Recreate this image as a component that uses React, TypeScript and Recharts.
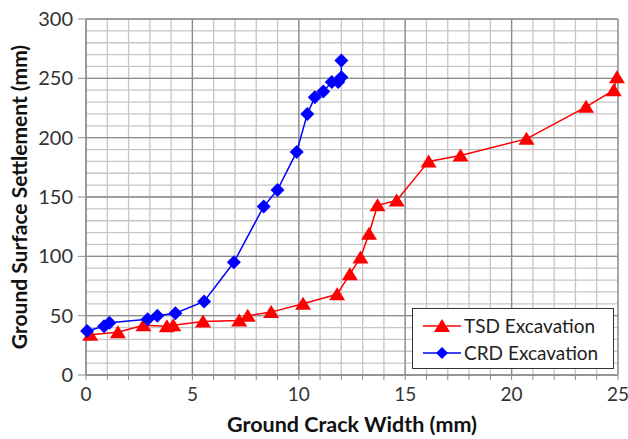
import React from 'react';
import {
  ScatterChart,
  Scatter,
  XAxis,
  YAxis,
  CartesianGrid,
  Label,
} from 'recharts';

// TSD Excavation (red triangles)
const tsdX = [0.2, 1.5, 2.7, 3.8, 4.1, 5.5, 7.2, 7.6, 8.7, 10.2, 11.8, 12.4, 12.9, 13.3, 13.7, 14.6, 16.1, 17.6, 20.7, 23.5, 24.8, 24.95];
const tsdY = [34, 36, 42, 41, 42, 45, 46, 50, 53, 60, 68, 85, 99, 119, 143, 147, 180, 185, 199, 226, 240, 251];

// CRD Excavation (blue diamonds)
const crdX = [0.05, 0.85, 1.1, 2.9, 3.35, 4.2, 5.55, 6.95, 8.35, 9.0, 9.9, 10.4, 10.75, 11.15, 11.55, 11.85, 12.0, 12.0];
const crdY = [37, 41, 44, 47, 50, 52, 62, 95, 142, 156, 188, 220, 234, 239, 247, 247, 251, 265];

const xTicks = [0, 1, 2, 3, 4, 5, 6, 7, 8, 9, 10, 11, 12, 13, 14, 15, 16, 17, 18, 19, 20, 21, 22, 23, 24, 25];
const xMajor = [0, 5, 10, 15, 20, 25];
const yMinor = [0, 10, 20, 30, 40, 50, 60, 70, 80, 90, 100, 110, 120, 130, 140, 150, 160, 170, 180, 190, 200, 210, 220, 230, 240, 250, 260, 270, 280, 290, 300];
const yMajor = [0, 50, 100, 150, 200, 250, 300];

const tsdData = tsdX.map((x, i) => ({ x, y: tsdY[i] }));
const crdData = crdX.map((x, i) => ({ x, y: crdY[i] }));

const RED = '#ff0000';
const BLUE = '#0000ff';
const FONT = 'Lato, "Open Sans", sans-serif';

const Triangle = (props: any) => {
  const { cx, cy } = props;
  if (cx == null || cy == null) return null;
  return (
    <polygon
      points={`${cx},${cy - 7} ${cx + 8},${cy + 6} ${cx - 8},${cy + 6}`}
      fill={RED}
    />
  );
};

const Diamond = (props: any) => {
  const { cx, cy } = props;
  if (cx == null || cy == null) return null;
  return (
    <polygon
      points={`${cx},${cy - 7} ${cx + 7},${cy} ${cx},${cy + 7} ${cx - 7},${cy}`}
      fill={BLUE}
    />
  );
};

const LegendBox = () => (
  <div
    style={{
      position: 'absolute',
      left: 412,
      top: 308,
      width: 202,
      height: 61,
      border: '1.5px solid #333',
      background: '#fff',
      boxSizing: 'border-box',
      fontFamily: FONT,
      fontSize: 19,
      color: '#222',
      padding: '3px 0 0 10px',
    }}
  >
    {[
      { name: 'TSD Excavation', color: RED, tri: true },
      { name: 'CRD Excavation', color: BLUE, tri: false },
    ].map((e) => (
      <div key={e.name} style={{ display: 'flex', alignItems: 'center', height: 27 }}>
        <svg width={38} height={16} style={{ marginRight: 3 }}>
          <line x1={0} y1={8} x2={38} y2={8} stroke={e.color} strokeWidth={1.5} />
          {e.tri ? (
            <polygon points="19,1 27,14 11,14" fill={e.color} />
          ) : (
            <polygon points="19,2 25,8 19,14 13,8" fill={e.color} />
          )}
        </svg>
        <span>{e.name}</span>
      </div>
    ))}
  </div>
);

export default function App() {
  return (
    <div style={{ position: 'absolute', left: 0, top: 0, width: 628, height: 439, background: '#fff' }}>
      <ScatterChart
        width={628}
        height={439}
        margin={{ top: 19, right: 10, bottom: 0, left: 0 }}
      >
        <CartesianGrid verticalValues={xTicks} horizontalValues={yMinor} stroke="#c6c6c6" strokeWidth={1.3} />
        <CartesianGrid verticalValues={xMajor} horizontalValues={yMajor} stroke="#8c8c8c" strokeWidth={1.3} fill="none" />
        <XAxis
          type="number"
          dataKey="x"
          domain={[0, 25]}
          ticks={xTicks}
          interval={0}
          height={64}
          tickFormatter={(v: number) => (v % 5 === 0 ? String(v) : '')}
          tickSize={5}
          stroke="#8c8c8c"
          tick={{ fill: '#333', fontSize: 19, fontFamily: FONT }}
          tickMargin={8}
        >
          <Label
            value="Ground Crack Width (mm)"
            position="center"
            dy={17}
            style={{ fontFamily: FONT, fontSize: 21.5, fontWeight: 700, fill: '#111' }}
          />
        </XAxis>
        <YAxis
          type="number"
          dataKey="y"
          domain={[0, 300]}
          ticks={yMajor}
          interval={0}
          width={86}
          tickSize={8}
          stroke="#8c8c8c"
          tick={{ fill: '#333', fontSize: 20, fontFamily: FONT }}
          tickMargin={5}
        >
          <Label
            value="Ground Surface Settlement (mm)"
            position="center"
            angle={-90}
            dx={-23}
            style={{ fontFamily: FONT, fontSize: 21, fontWeight: 700, fill: '#111', textAnchor: 'middle' }}
          />
        </YAxis>
        <Scatter
          name="TSD Excavation"
          data={tsdData}
          line={{ stroke: RED, strokeWidth: 1.5 }}
          lineType="joint"
          shape={Triangle}
          isAnimationActive={false}
        />
        <Scatter
          name="CRD Excavation"
          data={crdData}
          line={{ stroke: BLUE, strokeWidth: 1.5 }}
          lineType="joint"
          shape={Diamond}
          isAnimationActive={false}
        />
      </ScatterChart>
      <LegendBox />
    </div>
  );
}
